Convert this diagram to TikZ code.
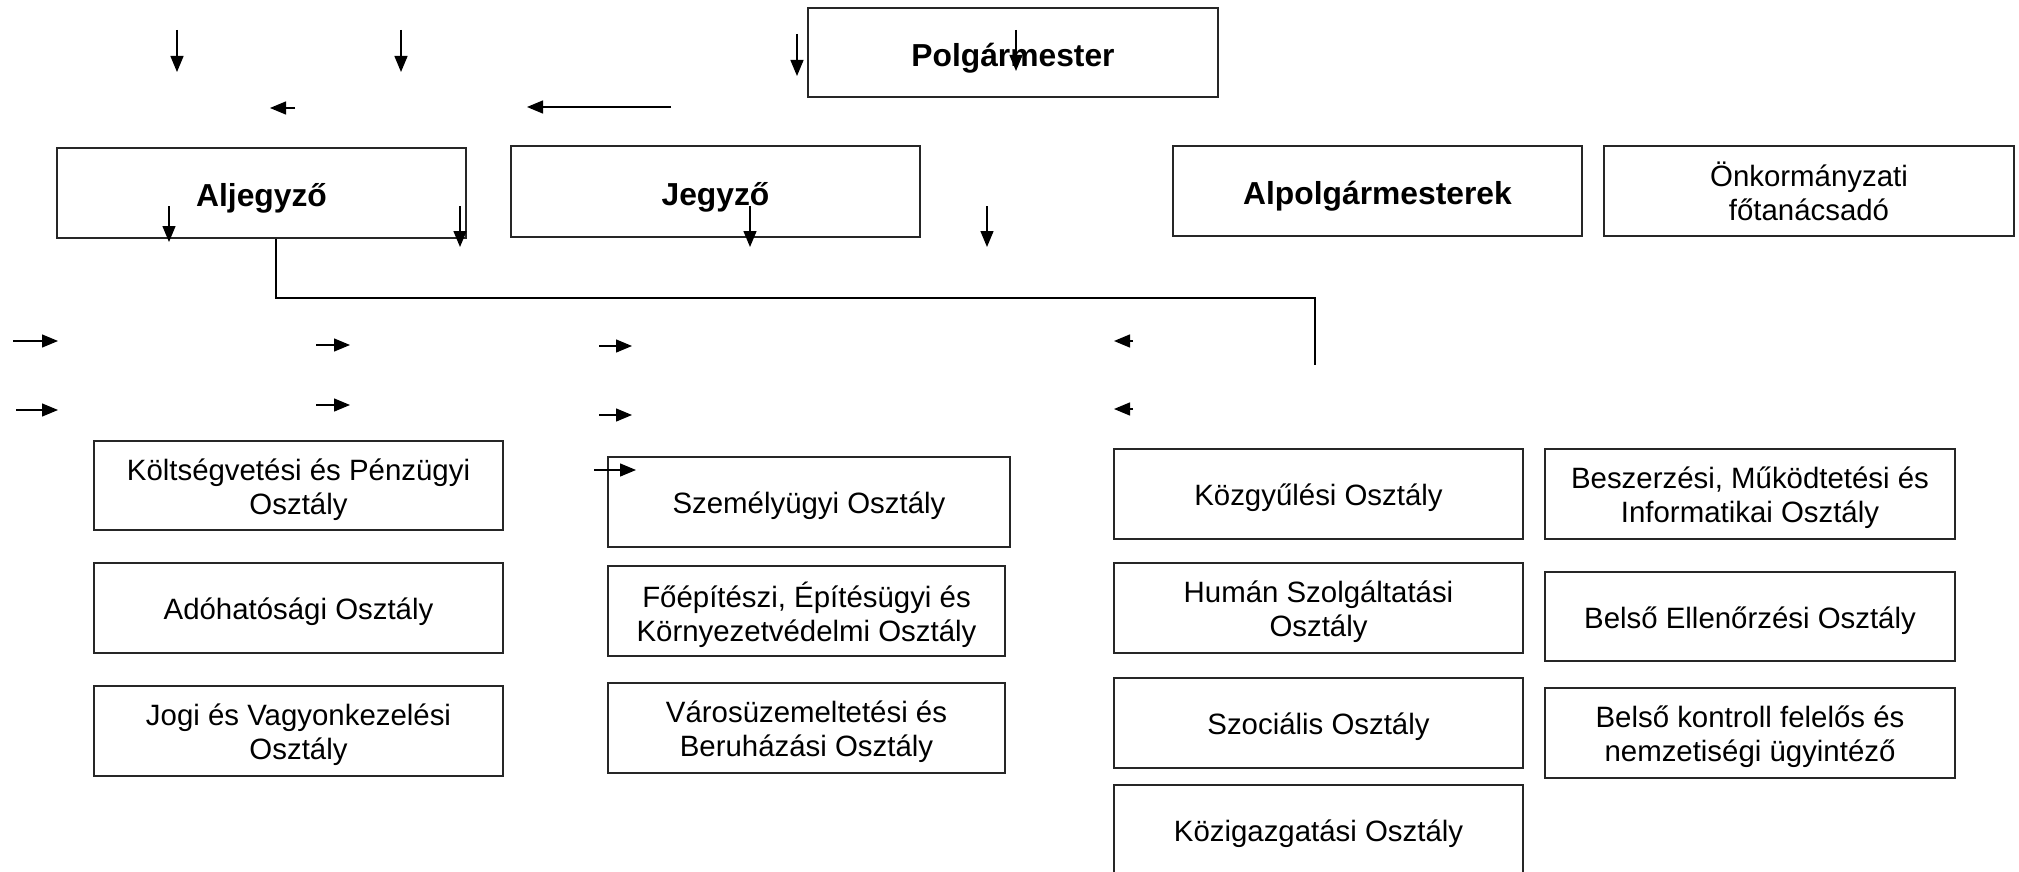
\documentclass[tikz,border=0pt]{standalone}
\usepackage{fontspec}
\setmainfont{Liberation Sans}
\usetikzlibrary{arrows.meta}
\newcommand\orgbox[7]{%
  \node[frame, minimum width=#4pt, minimum height=#5pt] (#1) at (#2,#3) {};
  \node[#6] (#1-t) at ([yshift=-4pt]#1.center) {#7};}
\begin{document}
\begin{tikzpicture}[x=1pt,y=-1pt,
  frame/.style={draw=black!85, line width=1.3pt, rectangle, inner sep=0pt},
  txt/.style={inner sep=0pt, align=center, font=\fontsize{29.4}{33.8}\selectfont},
  boldtxt/.style={txt, yshift=-1.5pt, font=\fontsize{31.8}{35}\selectfont\bfseries},
  stub/.style={line width=1.4pt, -{Triangle[length=16pt,width=13pt]}},
  conn/.style={line width=2pt}]
\clip (0,0) rectangle (2019,872);
% top row
\orgbox{polg}{1013}{52.5}{410}{89}{boldtxt}{Polgármester}
\orgbox{alj}{261.5}{193}{409}{90}{boldtxt}{Aljegyző}
\orgbox{jegy}{715.5}{191.5}{409}{91}{boldtxt}{Jegyző}
\orgbox{alpolg}{1377.5}{191}{409}{90}{boldtxt}{Alpolgármesterek}
\orgbox{onk}{1809}{191}{410}{90}{txt, yshift=4pt}{Önkormányzati\\főtanácsadó}
% left column
\orgbox{kolt}{298.5}{485.5}{409}{89}{txt}{Költségvetési és Pénzügyi\\Osztály}
\orgbox{ado}{298.5}{608}{409}{90}{txt}{Adóhatósági Osztály}
\orgbox{jogi}{298.5}{731}{409}{90}{txt}{Jogi és Vagyonkezelési\\Osztály}
% second column
\orgbox{szem}{809}{502}{402}{90}{txt}{Személyügyi Osztály}
\orgbox{foep}{806.5}{611}{397}{90}{txt}{Főépítészi, Építésügyi és\\Környezetvédelmi Osztály}
\orgbox{varos}{806.5}{728}{397}{90}{txt}{Városüzemeltetési és\\Beruházási Osztály}
% third column
\orgbox{kozgy}{1318.5}{494}{409}{90}{txt}{Közgyűlési Osztály}
\orgbox{human}{1318.5}{608}{409}{90}{txt}{Humán Szolgáltatási\\Osztály}
\orgbox{szoc}{1318.5}{723}{409}{90}{txt}{Szociális Osztály}
\orgbox{kozig}{1318.5}{830}{409}{90}{txt}{Közigazgatási Osztály}
% fourth column
\orgbox{besz}{1750}{494}{410}{90}{txt}{Beszerzési, Működtetési és\\Informatikai Osztály}
\orgbox{bellen}{1750}{616.5}{410}{89}{txt}{Belső Ellenőrzési Osztály}
\orgbox{bkontr}{1750}{733}{410}{90}{txt}{Belső kontroll felelős és\\nemzetiségi ügyintéző}
% connector from Aljegyző
\coordinate (c2) at (276,298);
\coordinate (c3) at (1315,298);
\coordinate (c4) at (1315,365);
\draw[conn] (alj.south -| c2) -- (c2) -- (c3) -- (c4);
% stray arrow stubs
\foreach \n/\xa/\ya/\xb/\yb in {
  a1/177/30/177/72, a2/401/30/401/72, a3/797/34/797/76, a4/1016/30/1016/71,
  a5/295/108/270/108, a6/671/107/527/107,
  a7/169/206/169/242, a8/460/206/460/247, a9/750/206/750/247, a10/987/206/987/247,
  a11/13/341/58/341, a12/16/410/58/410, a13/316/345/350/345, a14/316/405/350/405,
  a15/599/346/632/346, a16/599/415/632/415, a17/594/470/636/470,
  a18/1133/341/1114/341, a19/1133/409/1114/409}{
  \coordinate (\n s) at (\xa,\ya);
  \coordinate (\n e) at (\xb,\yb);
  \draw[stub] (\n s) -- (\n e);
}
\end{tikzpicture}
\end{document}
